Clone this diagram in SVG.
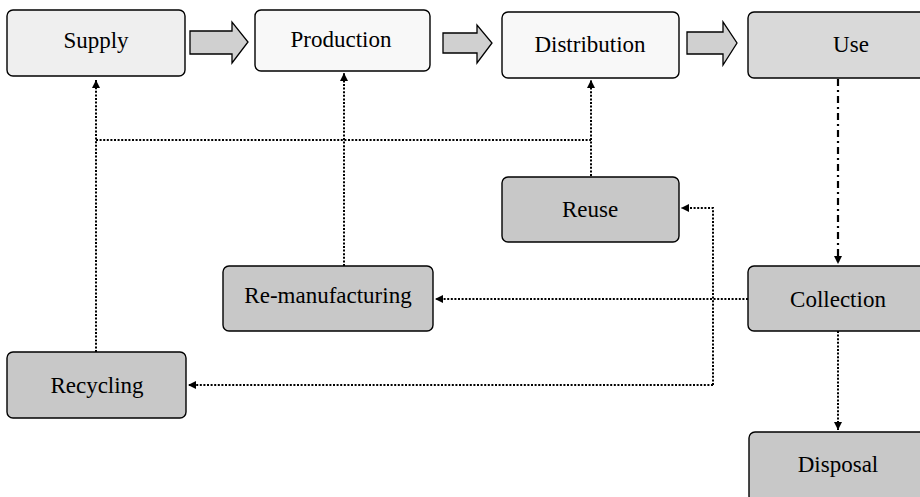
<svg xmlns="http://www.w3.org/2000/svg" width="920" height="497" viewBox="0 0 920 497">
<style>
.box{stroke:#000;stroke-width:1.4}
.light{fill:#efefef}
.white{fill:#f8f8f8}
.mid{fill:#d9d9d9}
.dark{fill:#c8c8c8}
.lbl{font-family:"Liberation Serif","Times New Roman",serif;font-size:23px;fill:#000;text-anchor:middle}
.blk{fill:#d0d0d0;stroke:#000;stroke-width:1.3}
.dot{fill:none;stroke:#000;stroke-width:2;stroke-dasharray:2 1.6}
.dd{fill:none;stroke:#000;stroke-width:2.2;stroke-dasharray:7 4 2 4}
</style>
<defs>
<marker id="ah" viewBox="0 0 10 10" refX="10" refY="5" markerWidth="8" markerHeight="8" markerUnits="userSpaceOnUse" orient="auto">
<path d="M0,0 L10,5 L0,10 z" fill="#000"/>
</marker>
</defs>
<rect width="920" height="497" fill="#fff"/>

<g id="connectors">
<path class="dot" d="M96,352 V80" marker-end="url(#ah)"/>
<path class="dot" d="M96,140 H591"/>
<path class="dot" d="M591,176 V80" marker-end="url(#ah)"/>
<path class="dot" d="M344,266 V73" marker-end="url(#ah)"/>
<path class="dd" d="M838,79 V264" marker-end="url(#ah)"/>
<path class="dot" d="M748,299 H435" marker-end="url(#ah)"/>
<path class="dot" d="M713,385 V208 H681" marker-end="url(#ah)"/>
<path class="dot" d="M713,385 H188" marker-end="url(#ah)"/>
<path class="dot" d="M838,331 V430" marker-end="url(#ah)"/>
<path class="blk" d="M190,31 H232 V22 L248,42 L232,63 V54 H190 Z"/>
<path class="blk" d="M443,33 H477 V25 L492,43 L477,63 V53 H443 Z"/>
<path class="blk" d="M687,32 H723 V22 L737,43 L723,65 V54 H687 Z"/>
</g>

<g id="supply"><rect class="box light" x="7" y="10" width="178" height="66" rx="6"/><text class="lbl" x="96" y="48">Supply</text></g>
<g id="production"><rect class="box white" x="255" y="10" width="175" height="61" rx="6"/><text class="lbl" x="341" y="47">Production</text></g>
<g id="distribution"><rect class="box white" x="502" y="12" width="177" height="66" rx="6"/><text class="lbl" x="590" y="52">Distribution</text></g>
<g id="use"><rect class="box mid" x="748" y="12" width="190" height="66" rx="6"/><text class="lbl" x="851" y="52">Use</text></g>
<g id="reuse"><rect class="box dark" x="502" y="177" width="177" height="65" rx="6"/><text class="lbl" x="590" y="217">Reuse</text></g>
<g id="remanufacturing"><rect class="box dark" x="223" y="266" width="210" height="65" rx="6"/><text class="lbl" x="328" y="303">Re-manufacturing</text></g>
<g id="collection"><rect class="box dark" x="748" y="266" width="190" height="65" rx="6"/><text class="lbl" x="838" y="307">Collection</text></g>
<g id="recycling"><rect class="box dark" x="7" y="352" width="179" height="66" rx="6"/><text class="lbl" x="97" y="393">Recycling</text></g>
<g id="disposal"><rect class="box dark" x="749" y="432" width="190" height="70" rx="6"/><text class="lbl" x="838" y="472">Disposal</text></g>
</svg>
